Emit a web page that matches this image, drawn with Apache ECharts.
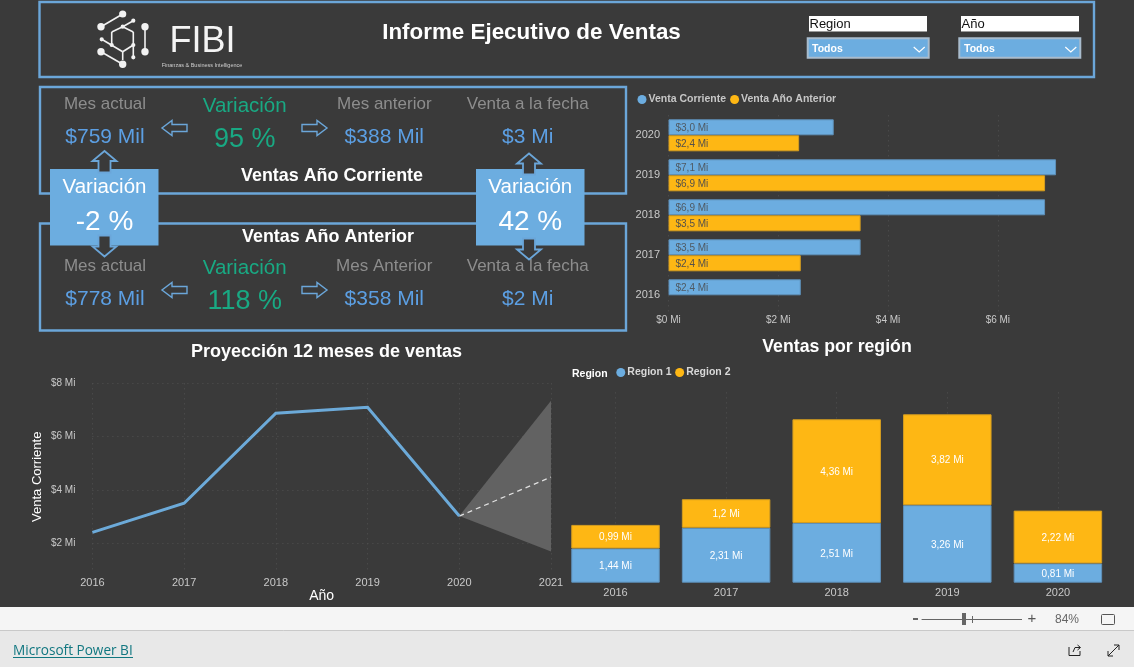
<!DOCTYPE html>
<html>
<head>
<meta charset="utf-8">
<style>html,body{margin:0;padding:0;background:#3a3a3a;overflow:hidden}#c{width:1134px;height:667px}</style>
<script src="https://cdn.jsdelivr.net/npm/echarts@6/dist/echarts.min.js"></script>
</head>
<body>
<div id="c"></div>
<script>
// ---- data ----
const barYears = ['2020','2019','2018','2017','2016'];
const ventaCorriente = [3.01, 7.06, 6.86, 3.5, 2.41];
const ventaAnterior = [2.38, 6.86, 3.5, 2.41, null];
const barTicks = ['$0 Mi','$2 Mi','$4 Mi','$6 Mi'];

const lineYears = ['2016','2017','2018','2019','2020','2021'];
const lineValues = [2.42, 3.51, 6.88, 7.1, 3.03, null];
const forecast = [null, null, null, null, 3.03, 4.49];
const forecastLow = [null, null, null, null, 3.03, 1.7];
const forecastHigh = [null, null, null, null, 3.03, 7.35];

const regionYears = ['2016','2017','2018','2019','2020'];
const region1 = [1.44, 2.31, 2.51, 3.26, 0.81];
const region2 = [0.99, 1.2, 4.36, 3.82, 2.22];

const kpiTop = ['$759 Mil', '95 %', '$388 Mil', '$3 Mi'];
const kpiBottom = ['$778 Mil', '118 %', '$358 Mil', '$2 Mi'];
const kpiVariation = ['-2 %', '42 %'];

// ---- style ----
const BG = '#3a3a3a', BLUE = '#6cade0', ORANGE = '#feb714', EDGE = '#6ba6d9';
const GREEN = '#19a983', KPI = '#5c9fe3', GREY = '#8d8d8d', AX = '#c9c9c9';
const FF = '"Liberation Sans", Arial, sans-serif';
const dots = {show:true, lineStyle:{color:'#515151', type:[1,4], width:1}};

const g = [];
function txt(x, y, t, size, color, opt) {
  opt = opt || {};
  g.push({type:'text', x:x, y:y+0.8, silent:true, rotation:opt.rot||0, z:opt.z||5, style:{
    text:t, fontFamily:opt.ff||FF, fontSize:size, fontWeight:opt.w||'normal', fill:color,
    align:opt.align||'center', verticalAlign:'middle'}});
}
function rect(x, y, w, h, fill, stroke, lw, z) {
  g.push({type:'rect', silent:true, z:z||1, shape:{x:x,y:y,width:w,height:h},
    style:{fill:fill||'transparent', stroke:stroke||null, lineWidth:lw||0}});
}
function poly(points, fill, stroke, lw, z) {
  g.push({type:'polygon', silent:true, z:z||4, shape:{points:points},
    style:{fill:fill, stroke:stroke, lineWidth:lw}});
}
function seg(x1, y1, x2, y2, color, lw, z) {
  g.push({type:'line', silent:true, z:z||3, shape:{x1:x1,y1:y1,x2:x2,y2:y2},
    style:{stroke:color, lineWidth:lw}});
}
function dot(x, y, r, color) {
  g.push({type:'circle', silent:true, z:3, shape:{cx:x,cy:y,r:r}, style:{fill:color}});
}
function arrowH(x, y, dir) { // hollow horizontal arrow, 25 x 15
  const a = dir > 0 ? x : x + 25, d = dir;
  poly([[a,y+4],[a+d*15,y+4],[a+d*15,y],[a+d*25,y+7.5],[a+d*15,y+15],[a+d*15,y+11],[a,y+11]], BG, EDGE, 1.4);
}
function arrowV(cx, base, tip) { // dark vertical arrow with blue outline
  const d = tip > base ? 1 : -1, len = Math.abs(tip-base), hb = base + d*(len-10);
  poly([[cx-6,base],[cx-6,hb],[cx-12,hb],[cx,tip],[cx+12,hb],[cx+6,hb],[cx+6,base]], BG, EDGE, 1.8, 6);
}

// header frame
rect(39.5, 2, 1054.5, 75, null, EDGE, 2.4);
// logo
[[101,26.7,122.7,14],[122.7,26.7,133.3,20.7],[111.7,32,122.7,26.7],[122.7,26.7,133.3,32],[111.7,32,111.7,45],
 [101.7,39.3,122.7,51.7],[133.3,45,122.7,51.7],[122.7,51.7,122.7,60],[101,51.7,122.7,64.3],[145,26.7,145,51.7],
 [133.3,32,133.3,57.3]].forEach(s => seg(s[0],s[1],s[2],s[3],'#f2f2f2',1.6));
[[122.7,14,3.6],[101,26.7,3.7],[145,26.7,3.7],[101,51.7,3.7],[145,51.7,3.7],[122.7,64.3,3.7],
 [122.7,26.7,2.1],[133.3,20.7,2.1],[101.7,39.3,2.1],[111.7,45,2.1],[133.3,45,2.1],[133.3,57.3,2.1]]
 .forEach(c => dot(c[0],c[1],c[2],'#f2f2f2'));
txt(202.5, 41, 'FIBI', 36, '#f4f4f4');
txt(202, 65, 'Finanzas & Business Intelligence', 5.5, '#cfcfcf');
txt(531.5, 32, 'Informe Ejecutivo de Ventas', 22.4, '#ffffff', {w:'bold'});

// slicers
[[809,806.7,812,'Region'],[961,958.3,964,'Año']].forEach(s => {
  rect(s[0], 16, 118, 15, '#ffffff', null, 0);
  seg(s[0], 31.5, s[0]+118, 31.5, '#9a9a9a', 1);
  txt(s[0]+0.5, 23.5, s[3], 13, '#111111', {align:'left', z:5});
  rect(s[1]+1, 38.3, 121, 19.5, BLUE, '#a9bccd', 2);
  txt(s[2], 48, 'Todos', 10.5, '#ffffff', {align:'left', w:'bold'});
  g.push({type:'polyline', silent:true, z:5, shape:{points:[[s[1]+107,47],[s[1]+112.5,52],[s[1]+118,47]]},
    style:{stroke:'#ffffff', fill:'none', lineWidth:1.2}});
});

// KPI frames
rect(40, 87, 586, 106.5, null, EDGE, 2.4);
rect(40, 223.5, 586, 107, null, EDGE, 2.4);
const cols = [105, 244.7, 384.3, 527.7];
const headTop = ['Mes actual','Variación','Mes anterior','Venta a la fecha'];
const headBottom = ['Mes actual','Variación','Mes Anterior','Venta a la fecha'];
[[103.5,headTop,kpiTop],[265.5,headBottom,kpiBottom]].forEach(r => {
  const y = r[0];
  cols.forEach((x,i) => {
    if (i === 1) {
      txt(x, y+2.5, r[1][i], 20.5, GREEN);
      txt(x, y+35.5, r[2][i], 27, GREEN);
    } else {
      txt(x, y, r[1][i], 17, GREY);
      txt(x, y+33, r[2][i], 21, KPI);
    }
  });
  arrowH(162, y+17, -1);
  arrowH(302, y+17, 1);
});
txt(332, 175, 'Ventas Año Corriente', 17.9, '#ffffff', {w:'bold'});
txt(328, 236, 'Ventas Año Anterior', 17.9, '#ffffff', {w:'bold'});

// variation boxes
[[50,104.5,kpiVariation[0],104.5,172.5,151,235.5,256.5],[476,530.3,kpiVariation[1],529,174.5,153.5,238.5,259.5]].forEach(b => {
  rect(b[0], 169, 108.5, 76.5, BLUE, null, 0, 2);
  txt(b[1], 187, 'Variación', 20.5, '#ffffff', {z:7});
  txt(b[1], 221, b[2], 28, '#ffffff', {z:7});
  arrowV(b[3], b[4], b[5]);
  arrowV(b[3], b[6], b[7]);
});

// section titles
txt(326.5, 351, 'Proyección 12 meses de ventas', 18, '#ffffff', {w:'bold'});
txt(837, 346, 'Ventas por región', 17.7, '#ffffff', {w:'bold'});
txt(572, 373, 'Region', 10.5, '#ffffff', {w:'bold', align:'left'});

// footer
rect(0, 607, 1134, 23, '#f5f5f5', null, 0);
rect(0, 630, 1134, 37, '#e8e8e8', null, 0);
seg(0, 630.5, 1134, 630.5, '#c9c9c9', 1);
txt(13, 650.5, 'Microsoft Power BI', 13.6, '#117780', {align:'left', ff:'"Open Sans", "Noto Sans", sans-serif'});
seg(13, 657.5, 133, 657.5, '#117780', 1);
rect(913, 618, 5, 2, '#666666', null, 0);
seg(921.6, 619.5, 1022, 619.5, '#666666', 1);
rect(962, 613, 4, 12, '#666666', null, 0);
seg(972.5, 616, 972.5, 623, '#666666', 1);
txt(1032, 618, '+', 15, '#555555');
txt(1067, 618.5, '84%', 12, '#666666');
g.push({type:'rect', silent:true, z:3, shape:{x:1101.5,y:614.5,width:13,height:10,r:1}, style:{fill:'transparent',stroke:'#555555',lineWidth:1}});
g.push({type:'polyline', silent:true, z:3, shape:{points:[[1069,647],[1069,655.5],[1080,655.5],[1080,651]]}, style:{stroke:'#222222',fill:'none',lineWidth:1}});
g.push({type:'polyline', silent:true, z:3, shape:{points:[[1073,652],[1075,647.5],[1080,647.5]]}, style:{stroke:'#222222',fill:'none',lineWidth:1}});
g.push({type:'polyline', silent:true, z:3, shape:{points:[[1077.5,645],[1080.5,647.5],[1077.5,650]]}, style:{stroke:'#222222',fill:'none',lineWidth:1}});
seg(1108, 656, 1119, 645, '#222222', 1);
g.push({type:'polyline', silent:true, z:3, shape:{points:[[1114,645],[1119,645],[1119,650]]}, style:{stroke:'#222222',fill:'none',lineWidth:1}});
g.push({type:'polyline', silent:true, z:3, shape:{points:[[1108,651],[1108,656],[1113,656]]}, style:{stroke:'#222222',fill:'none',lineWidth:1}});

const comma = v => String(v).replace('.', ',');
const axisFont = {fontFamily:FF, color:AX};
const hide = {show:false};
const legendBase = {icon:'circle', itemWidth:9, itemHeight:9, padding:0, selectedMode:false,
  itemStyle:{borderWidth:0}};

const option = {
  animation:false,
  backgroundColor:BG,
  textStyle:{fontFamily:FF},
  graphic:g,
  legend:[
    Object.assign({left:637.5, top:94, data:['Venta Corriente','Venta Año Anterior'], itemGap:4,
      textStyle:{fontFamily:FF, fontSize:10.5, fontWeight:'bold', color:'#c6c6c6', padding:[0,0,0,-3]}}, legendBase),
    Object.assign({left:616.3, top:367, data:['Region 1','Region 2'], itemGap:3.5,
      textStyle:{fontFamily:FF, fontSize:10.5, fontWeight:'bold', color:'#d8d8d8', padding:[0,0,0,-3]}}, legendBase)
  ],
  grid:[
    {left:668.5, top:115.3, width:411.7, height:200},
    {left:92.4, top:383.3, width:458.6, height:187},
    {left:560.2, top:392.4, width:553, height:190.3}
  ],
  xAxis:[
    {type:'value', gridIndex:0, min:0, max:7.5, interval:2,
     axisLine:hide, axisTick:hide, splitLine:Object.assign({showMaxLine:false}, dots),
     axisLabel:Object.assign({fontSize:10, margin:0, showMaxLabel:false,
       formatter:v => barTicks[v/2] || ''}, axisFont)},
    {type:'category', gridIndex:1, data:lineYears, boundaryGap:false,
     axisLine:hide, axisTick:hide, splitLine:dots,
     axisLabel:Object.assign({fontSize:11, margin:7, interval:0}, axisFont),
     name:'Año', nameLocation:'middle', nameGap:18.5,
     nameTextStyle:{fontFamily:FF, fontSize:14, color:'#ffffff'}},
    {type:'category', gridIndex:2, data:regionYears,
     axisLine:hide, axisTick:{show:false},
     splitLine:Object.assign({alignWithLabel:true, interval:0}, dots),
     axisLabel:Object.assign({fontSize:11, margin:5}, axisFont)}
  ],
  yAxis:[
    {type:'category', gridIndex:0, data:barYears, inverse:true,
     axisLine:hide, axisTick:hide, splitLine:hide,
     axisLabel:Object.assign({fontSize:11, margin:8.5, align:'right'}, axisFont)},
    {type:'value', gridIndex:1, min:1, max:8,
     axisLine:hide, axisTick:{show:false, customValues:[2,4,6,8]}, splitLine:dots,
     axisLabel:Object.assign({fontSize:10, margin:17, customValues:[2,4,6,8], formatter:v => '$'+v+' Mi'}, axisFont),
     name:'Venta Corriente', nameLocation:'middle', nameGap:48, nameRotate:90,
     nameTextStyle:{fontFamily:FF, fontSize:13, color:'#ffffff'}},
    {type:'value', gridIndex:2, min:0, max:8, show:false, splitLine:hide}
  ],
  series:[
    {name:'Venta Corriente', type:'bar', xAxisIndex:0, yAxisIndex:0, data:ventaCorriente, barWidth:16, barGap:'0%',
     itemStyle:{color:BLUE, borderColor:'#5e90ba', borderWidth:1},
     label:{show:true, position:'insideLeft', distance:7, offset:[0,0.8], fontSize:10, fontFamily:FF, color:'#4f5a63',
       formatter:p => '$'+comma(p.value.toFixed(1))+' Mi'}},
    {name:'Venta Año Anterior', type:'bar', xAxisIndex:0, yAxisIndex:0, data:ventaAnterior, barWidth:16, barGap:'0%',
     itemStyle:{color:ORANGE, borderColor:'#d49d20', borderWidth:1},
     label:{show:true, position:'insideLeft', distance:7, offset:[0,0.8], fontSize:10, fontFamily:FF, color:'#55504a',
       formatter:p => p.value == null ? '' : '$'+comma(p.value.toFixed(1))+' Mi'}},

    {name:'bandLow', type:'line', xAxisIndex:1, yAxisIndex:1, data:forecastLow, stack:'band', symbol:'none', z:2,
     lineStyle:{opacity:0}, areaStyle:{opacity:0}},
    {name:'bandWidth', type:'line', xAxisIndex:1, yAxisIndex:1, stack:'band', symbol:'none', z:2,
     data:forecastHigh.map((v,i) => v == null ? null : v - forecastLow[i]),
     lineStyle:{opacity:0}, areaStyle:{color:'#626262', opacity:1}},
    {name:'Proyección', type:'line', xAxisIndex:1, yAxisIndex:1, data:forecast, symbol:'none', z:3,
     lineStyle:{color:'#e0e0e0', width:1.3, type:[5,4]}},
    {name:'Venta', type:'line', xAxisIndex:1, yAxisIndex:1, data:lineValues, symbol:'none', z:4,
     lineStyle:{color:'#6caad9', width:3, join:'miter'}},

    {name:'Region 1', type:'bar', xAxisIndex:2, yAxisIndex:2, data:region1, stack:'r', barWidth:88.5,
     itemStyle:{color:BLUE, borderColor:'#5e90ba', borderWidth:1},
     label:{show:true, position:'inside', offset:[0,1], fontSize:10, fontFamily:FF, color:'#ffffff',
       formatter:p => comma(p.value)+' Mi'}},
    {name:'Region 2', type:'bar', xAxisIndex:2, yAxisIndex:2, data:region2, stack:'r', barWidth:88.5,
     itemStyle:{color:ORANGE, borderColor:'#d49d20', borderWidth:1},
     label:{show:true, position:'inside', offset:[0,1], fontSize:10, fontFamily:FF, color:'#ffffff',
       formatter:p => comma(p.value)+' Mi'}}
  ]
};
echarts.init(document.getElementById('c'), null, {renderer:'canvas'}).setOption(option);
</script>
</body>
</html>
